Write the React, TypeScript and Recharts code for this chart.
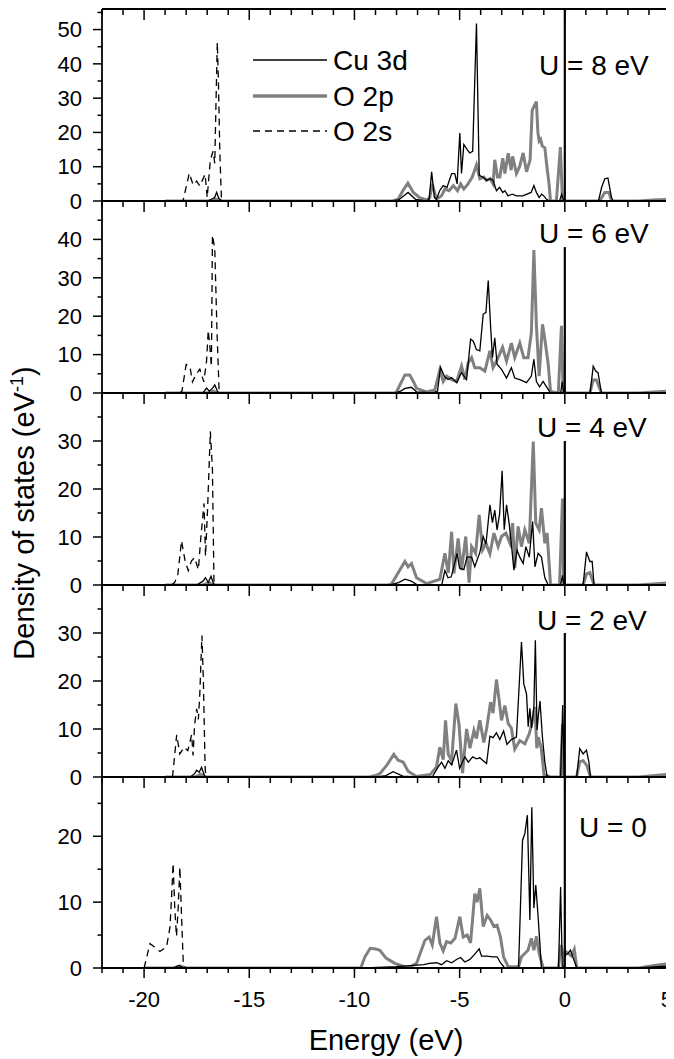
import { LineChart, Line, XAxis, YAxis, ReferenceLine } from "recharts";

const FONT = '"Liberation Sans", Arial, Helvetica, sans-serif';
const W = 674;
const H = 1059;
const GRAY = "#808080";

type Pt = [number, number];

// ── axis ticks ────────────────────────────────────────────────
const xTicks = [-22, -21, -20, -19, -18, -17, -16, -15, -14, -13, -12, -11, -10, -9, -8, -7, -6, -5, -4, -3, -2, -1, 0, 1, 2, 3, 4, 5];
const yTicksU8 = [0, 5, 10, 15, 20, 25, 30, 35, 40, 45, 50, 55];
const yTicksU6 = [0, 5, 10, 15, 20, 25, 30, 35, 40, 45];
const yTicksU4 = [0, 5, 10, 15, 20, 25, 30, 35];
const yTicksU2 = [0, 5, 10, 15, 20, 25, 30, 35];
const yTicksU0 = [0, 5, 10, 15, 20, 25];

// ── U = 8 eV ──────────────────────────────────────────────────
const o2sU8: Pt[] = [[-18.9, 0], [-18.15, 0], [-17.85, 8.1], [-17.67, 4.7], [-17.5, 5.8], [-17.35, 4.4], [-17.1, 7.8], [-17.0, 1], [-16.85, 12], [-16.72, 14.5], [-16.64, 11], [-16.58, 29], [-16.52, 46.3], [-16.47, 35.8], [-16.4, 14.5], [-16.32, 0]];
const cuU8: Pt[] = [[-19, 0], [-17, 0], [-16.8, 0.5], [-16.65, 1], [-16.55, 2.5], [-16.45, 0.8], [-16.3, 0], [-8.2, 0], [-7.9, 0.3], [-7.45, 2.5], [-7.1, 0.5], [-6.6, 0], [-6.45, 0.5], [-6.33, 8.5], [-6.2, 1], [-6.1, 0.5], [-5.95, 3], [-5.78, 4.5], [-5.6, 4], [-5.38, 8], [-5.23, 8], [-5.12, 5], [-4.99, 19.8], [-4.91, 8], [-4.8, 16.5], [-4.64, 15], [-4.52, 14], [-4.38, 14.5], [-4.2, 51.8], [-4.07, 7.5], [-3.9, 7], [-3.72, 6], [-3.55, 6.5], [-3.41, 6], [-3.25, 3], [-3.1, 4], [-2.95, 2.5], [-2.85, 3], [-2.7, 1.5], [-2.5, 2], [-2.3, 1.5], [-2.0, 1.5], [-1.8, 2], [-1.6, 2.5], [-1.47, 4.5], [-1.35, 2.5], [-1.22, 1], [-1.1, 2], [-1.0, 1.5], [-0.87, 0.5], [-0.7, 0], [-0.25, 0], [-0.15, 2], [-0.05, 0], [1.6, 0], [1.75, 4], [1.9, 6.5], [2.05, 6.7], [2.22, 1], [2.3, 0], [5, 0]];
const o2pU8: Pt[] = [[-19, 0], [-16.8, 0], [-16.6, 0.6], [-16.4, 0], [-8.2, 0], [-7.92, 0.5], [-7.7, 3], [-7.46, 5.2], [-7.2, 2.5], [-6.9, 1], [-6.57, 0.3], [-6.42, 1], [-6.3, 5], [-6.1, 0.5], [-5.86, 1.5], [-5.7, 3.5], [-5.5, 3], [-5.3, 4.5], [-5.1, 3], [-4.95, 5], [-4.8, 3.5], [-4.6, 5], [-4.4, 7], [-4.2, 10.5], [-4.04, 6.5], [-3.85, 7], [-3.72, 6], [-3.55, 6.5], [-3.41, 5], [-3.33, 12], [-3.2, 7], [-3.09, 7], [-2.95, 12.5], [-2.85, 8], [-2.69, 13.9], [-2.55, 9], [-2.48, 13], [-2.3, 8], [-2.15, 10], [-1.98, 14], [-1.82, 8.5], [-1.65, 12], [-1.55, 26.5], [-1.43, 28], [-1.35, 29], [-1.28, 20], [-1.22, 17.5], [-1.15, 18], [-1.07, 16], [-0.95, 15.5], [-0.85, 10], [-0.75, 5], [-0.68, 0], [-0.4, 0], [-0.21, 15.7], [-0.11, 0], [1.66, 0], [1.9, 2.5], [2.1, 2.5], [2.22, 0], [3.5, 0], [4.2, 0.3], [5, 0.5]];

// ── U = 6 eV ──────────────────────────────────────────────────
const o2sU6: Pt[] = [[-18.3, 0], [-18.2, 0.5], [-18.0, 7.4], [-17.82, 6.9], [-17.7, 2.9], [-17.5, 5.1], [-17.35, 6.2], [-17.16, 2.9], [-17.03, 8.4], [-16.95, 16.3], [-16.87, 11.9], [-16.8, 6.9], [-16.75, 41.1], [-16.64, 37.6], [-16.53, 15.4], [-16.43, 0]];
const cuU6: Pt[] = [[-19, 0], [-17.2, 0], [-17.03, 1.3], [-16.9, 0.5], [-16.75, 1.2], [-16.64, 2.1], [-16.5, 0.3], [-16.4, 0], [-8.1, 0], [-7.8, 0.5], [-7.6, 1.2], [-7.29, 1.5], [-7.05, 0.3], [-6.3, 0], [-6.05, 0.5], [-5.91, 6.7], [-5.72, 4.3], [-5.55, 3.5], [-5.38, 4], [-5.14, 2.7], [-4.91, 5.3], [-4.67, 3.5], [-4.48, 14], [-4.35, 13.5], [-4.2, 11.3], [-4.04, 11], [-3.88, 20.5], [-3.75, 21], [-3.64, 29.3], [-3.53, 17.5], [-3.44, 9.2], [-3.33, 14.4], [-3.22, 7.5], [-3.0, 6.1], [-2.77, 3.9], [-2.54, 6.6], [-2.38, 3.9], [-2.14, 3.5], [-1.82, 2.7], [-1.59, 4.4], [-1.47, 8.8], [-1.35, 3], [-1.2, 1.6], [-1.03, 3], [-0.8, 1], [-0.68, 0], [-0.2, 0], [-0.12, 3], [-0.05, 0], [1.2, 0], [1.35, 7], [1.47, 5.7], [1.58, 5.3], [1.74, 0], [5, 0]];
const o2pU6: Pt[] = [[-19, 0], [-17, 0], [-16.7, 0.5], [-16.5, 0], [-8.1, 0], [-8.0, 0.3], [-7.6, 4.7], [-7.37, 4.7], [-7.2, 3], [-7.05, 1.2], [-6.57, 0.3], [-6.18, 0.8], [-5.94, 6], [-5.78, 3], [-5.62, 4.4], [-5.38, 3.5], [-5.14, 3], [-4.91, 7], [-4.75, 3.5], [-4.59, 7.9], [-4.43, 9.2], [-4.28, 6.6], [-4.04, 6.6], [-3.8, 5.7], [-3.56, 11], [-3.41, 6.6], [-3.17, 9.2], [-2.96, 11.9], [-2.77, 8.3], [-2.54, 13], [-2.38, 9.2], [-2.14, 13], [-1.95, 9.2], [-1.75, 9.2], [-1.59, 15.7], [-1.47, 37.2], [-1.35, 17.5], [-1.22, 4.4], [-1.06, 17.9], [-0.95, 14], [-0.79, 7.5], [-0.68, 0.4], [-0.31, 0], [-0.16, 17.5], [-0.08, 0], [1.19, 0], [1.35, 3.4], [1.5, 3.4], [1.74, 0], [3.5, 0], [5, 0.5]];

// ── U = 4 eV ──────────────────────────────────────────────────
const o2sU4: Pt[] = [[-18.7, 0], [-18.55, 0.5], [-18.4, 2], [-18.22, 9.2], [-18.05, 5], [-17.9, 3], [-17.75, 5], [-17.6, 5.7], [-17.42, 3.2], [-17.3, 10], [-17.15, 17], [-17.08, 6], [-16.98, 16], [-16.85, 32], [-16.75, 24], [-16.68, 1], [-16.62, 0]];
const cuU4: Pt[] = [[-19, 0], [-17.5, 0], [-17.2, 0.8], [-17.08, 1.5], [-16.95, 0.5], [-16.82, 1.8], [-16.7, 0.3], [-16.6, 0], [-8.3, 0], [-7.9, 0.5], [-7.6, 1.2], [-7.3, 0.8], [-7.0, 0], [-5.85, 0], [-5.7, 3], [-5.55, 1.5], [-5.4, 1.7], [-5.12, 6.6], [-5.0, 3.5], [-4.8, 3.2], [-4.65, 5.8], [-4.43, 5.8], [-4.28, 3.8], [-4.04, 6.8], [-3.88, 10.1], [-3.75, 8.5], [-3.56, 16.7], [-3.44, 13], [-3.33, 15.6], [-3.22, 11.5], [-3.1, 14.8], [-2.98, 23.8], [-2.88, 11.5], [-2.77, 16.7], [-2.65, 13], [-2.54, 8.5], [-2.42, 3.1], [-2.27, 7.3], [-2.14, 5.8], [-1.98, 4.5], [-1.85, 8], [-1.69, 5.8], [-1.53, 13.2], [-1.42, 3.8], [-1.27, 6.6], [-1.11, 5.8], [-0.95, 1.5], [-0.79, 0], [-0.2, 0], [-0.11, 2], [-0.05, 0], [0.87, 0], [1.03, 6.9], [1.19, 4.9], [1.3, 4.9], [1.39, 0], [5, 0]];
const o2pU4: Pt[] = [[-19, 0], [-17.2, 0], [-16.9, 0.5], [-16.7, 0], [-8.4, 0], [-8.24, 0.2], [-7.6, 4.9], [-7.45, 3.8], [-7.29, 4.5], [-7.05, 1.5], [-6.57, 0.3], [-5.94, 1.2], [-5.7, 6.6], [-5.54, 2.5], [-5.38, 11.1], [-5.27, 2.4], [-5.07, 9.7], [-4.91, 3.1], [-4.71, 10.1], [-4.55, 0.5], [-4.43, 8], [-4.24, 6.6], [-4.07, 14.6], [-3.91, 7.3], [-3.75, 8.7], [-3.56, 6.5], [-3.37, 10.8], [-3.17, 8], [-3.01, 10.1], [-2.8, 10.8], [-2.61, 8.7], [-2.48, 12.9], [-2.38, 3.5], [-2.22, 12.2], [-2.06, 8], [-1.9, 11.5], [-1.69, 8.7], [-1.5, 29.9], [-1.38, 12.9], [-1.22, 11.5], [-1.11, 16], [-0.95, 8.7], [-0.84, 10.8], [-0.68, 0], [-0.25, 0], [-0.11, 18], [-0.05, 0], [0.87, 0], [1.03, 2.3], [1.19, 2.6], [1.39, 0], [3.5, 0], [5, 0.5]];

// ── U = 2 eV ──────────────────────────────────────────────────
const o2sU2: Pt[] = [[-18.65, 0], [-18.6, 2.1], [-18.45, 8.8], [-18.3, 4.8], [-18.1, 6.2], [-17.92, 5.5], [-17.74, 8.8], [-17.67, 4.5], [-17.6, 10.8], [-17.5, 14.2], [-17.42, 12], [-17.35, 17.4], [-17.25, 29.5], [-17.18, 20], [-17.1, 2.1], [-17.06, 0]];
const cuU2: Pt[] = [[-19, 0], [-17.8, 0], [-17.6, 0.7], [-17.5, 1.4], [-17.38, 1], [-17.27, 2], [-17.1, 0], [-9, 0], [-8.5, 0.3], [-8.16, 1.1], [-7.7, 0.2], [-7.0, 0], [-6.3, 0], [-6.02, 2.1], [-5.86, 3.1], [-5.7, 1.8], [-5.54, 3.4], [-5.38, 2.5], [-5.15, 5.6], [-5.0, 1.8], [-4.75, 4.2], [-4.59, 3.1], [-4.38, 4.2], [-4.2, 3.8], [-4.04, 4], [-3.88, 3.4], [-3.72, 2.8], [-3.56, 8.5], [-3.41, 8.2], [-3.25, 9.2], [-3.09, 7.8], [-2.91, 9.6], [-2.75, 6.8], [-2.54, 7.8], [-2.3, 8.3], [-2.06, 28.1], [-1.95, 19.4], [-1.82, 17.3], [-1.74, 10.5], [-1.66, 14.3], [-1.58, 10.2], [-1.47, 14.8], [-1.4, 28.5], [-1.32, 9.8], [-1.25, 13.2], [-1.18, 15.8], [-1.07, 8.6], [-0.95, 3.1], [-0.85, 0.3], [-0.7, 0], [-0.2, 0], [-0.1, 15], [-0.03, 0], [0.56, 0], [0.71, 5.9], [0.87, 4.8], [1.03, 5.6], [1.15, 3], [1.22, 0], [5, 0]];
const o2pU2: Pt[] = [[-19, 0], [-17.6, 0], [-17.3, 0.6], [-17.1, 0], [-9.3, 0], [-9.0, 0.3], [-8.79, 0.7], [-8.47, 2.4], [-8.13, 4.7], [-7.92, 3.5], [-7.68, 3.1], [-7.45, 1.2], [-7.05, 0.1], [-6.4, 0.5], [-6.1, 2.1], [-5.94, 6.2], [-5.78, 3.6], [-5.67, 11.8], [-5.54, 4.7], [-5.38, 3.4], [-5.18, 15.3], [-5.03, 11], [-4.86, 0.8], [-4.67, 10], [-4.51, 6], [-4.32, 9.7], [-4.2, 8], [-4.04, 11.8], [-3.85, 7.2], [-3.72, 10], [-3.53, 15.6], [-3.41, 13.3], [-3.25, 20.3], [-3.12, 15.9], [-3.01, 11.8], [-2.85, 14.9], [-2.69, 11.1], [-2.54, 10.2], [-2.38, 5.8], [-2.14, 7.6], [-1.9, 6.9], [-1.69, 9], [-1.53, 11.8], [-1.42, 14.6], [-1.33, 6], [-1.26, 8.3], [-1.12, 6], [-0.99, 0.5], [-0.71, 0], [-0.2, 0], [-0.11, 11.1], [-0.05, 0], [0.56, 0], [0.71, 3.2], [0.87, 3.4], [1.06, 2.3], [1.22, 0], [3.5, 0], [5, 0.6]];

// ── U = 0 ─────────────────────────────────────────────────────
const o2sU0: Pt[] = [[-20, 0], [-19.72, 3.7], [-19.5, 3.2], [-19.25, 2.5], [-18.93, 3.2], [-18.77, 6.2], [-18.7, 10.3], [-18.62, 15.9], [-18.54, 9], [-18.46, 4.8], [-18.38, 9], [-18.3, 15.3], [-18.22, 8], [-18.14, 1], [-18.06, 0]];
const cuU0: Pt[] = [[-20, 0], [-18.6, 0], [-18.35, 0.4], [-18.1, 0], [-9.5, 0], [-8, 0.2], [-6.7, 0.5], [-6.45, 0.7], [-6.1, 0.8], [-5.86, 0.5], [-5.62, 1.1], [-5.38, 0.8], [-5.15, 1.3], [-4.96, 1.6], [-4.75, 0.9], [-4.51, 1.3], [-4.28, 2.1], [-4.07, 2.9], [-3.96, 1.8], [-3.72, 1.8], [-3.4, 1.7], [-3.22, 1.7], [-3.06, 0.8], [-2.85, 0], [-2.2, 0], [-2.01, 19.4], [-1.9, 20.4], [-1.78, 23.2], [-1.66, 7.3], [-1.57, 24.4], [-1.47, 9.1], [-1.38, 12.6], [-1.27, 7.8], [-1.11, 0], [-0.3, 0], [-0.2, 12.3], [-0.12, 0], [-0.05, 0], [0.0, 2], [0.15, 2.2], [0.27, 2.7], [0.4, 1.5], [0.57, 0], [3.5, 0], [5, 0.3]];
const o2pU0: Pt[] = [[-20, 0], [-18.6, 0], [-18.3, 0.3], [-18, 0], [-9.7, 0], [-9.5, 1.7], [-9.25, 3], [-9.0, 2.9], [-8.79, 2.7], [-8.5, 1.5], [-8.08, 0.7], [-7.45, 0], [-7.05, 0.7], [-6.65, 4.2], [-6.45, 4.7], [-6.3, 3.5], [-6.1, 7.8], [-5.94, 3.8], [-5.78, 2.6], [-5.62, 4], [-5.42, 3.8], [-5.22, 4.5], [-4.99, 7.8], [-4.83, 4.7], [-4.64, 5], [-4.48, 3.8], [-4.28, 11.3], [-4.17, 10], [-4.04, 12.1], [-3.88, 6.3], [-3.69, 8], [-3.53, 7.3], [-3.37, 6.3], [-3.22, 6.5], [-3.06, 4.7], [-2.91, 1.7], [-2.69, 0.2], [-2.2, 0.2], [-2.06, 1.7], [-1.75, 2.7], [-1.59, 4.5], [-1.47, 2.7], [-1.35, 4.8], [-1.22, 2.2], [-1.03, 0], [-0.3, 0], [-0.19, 3.5], [-0.05, 1.5], [0.08, 2.4], [0.32, 1.8], [0.45, 2.8], [0.57, 0], [3.5, 0], [4.5, 0.5], [5, 0.7]];

// height of the Fermi-level marker in each panel (DOS units)
const fermiTop = [56, 38, 30, 30, 29];
const yMax = [56, 50, 40, 40, 29];
const uLabels = ["U = 8 eV", "U = 6 eV", "U = 4 eV", "U = 2 eV", "U = 0"];

const panels = [
  { top: 9, bottom: 201, ticks: yTicksU8, cu: cuU8, o2p: o2pU8, o2s: o2sU8, lx: 539, ly: 75 },
  { top: 201, bottom: 393, ticks: yTicksU6, cu: cuU6, o2p: o2pU6, o2s: o2sU6, lx: 539, ly: 243 },
  { top: 393, bottom: 585, ticks: yTicksU4, cu: cuU4, o2p: o2pU4, o2s: o2sU4, lx: 537, ly: 437 },
  { top: 585, bottom: 777, ticks: yTicksU2, cu: cuU2, o2p: o2pU2, o2s: o2sU2, lx: 537, ly: 630 },
  { top: 777, bottom: 968, ticks: yTicksU0, cu: cuU0, o2p: o2pU0, o2s: o2sU0, lx: 579, ly: 837 },
];

const toPts = (arr: Pt[]) => arr.map(([e, v]) => ({ e, v }));

const frame = { stroke: "#000", strokeWidth: 1.8 };

// ── custom tick marks ─────────────────────────────────────────
const TopTick = (props: any) => {
  const { x, y, payload } = props;
  const len = payload.value % 5 === 0 ? 11 : 6;
  return <line x1={x} y1={y} x2={x} y2={y + len} stroke="#000" strokeWidth={1.5} />;
};

const BottomTick = (props: any) => {
  const { x, y, payload } = props;
  const major = payload.value % 5 === 0;
  // the last label sits on the page edge; keep it inside
  const atEdge = x > W - 10;
  return (
    <g>
      <line x1={x} y1={y} x2={x} y2={y + (major ? 10 : 5)} stroke="#000" strokeWidth={1.5} />
      {major && (
        <text
          x={atEdge ? W - 1 : x} y={y + 39} textAnchor={atEdge ? "end" : "middle"}
          fontSize={22} fontFamily={FONT} fill="#000"
        >
          {payload.value}
        </text>
      )}
    </g>
  );
};

const LeftTick = (props: any) => {
  const { x, y, payload } = props;
  const major = payload.value % 10 === 0;
  return (
    <g>
      <line x1={x - (major ? 9 : 4.5)} y1={y} x2={x} y2={y} stroke="#000" strokeWidth={1.5} />
      {major && (
        <text x={x - 20} y={y} dy="0.35em" textAnchor="end" fontSize={22} fontFamily={FONT} fill="#000">
          {payload.value}
        </text>
      )}
    </g>
  );
};

const RightTick = (props: any) => {
  const { x, y, payload } = props;
  const len = payload.value % 10 === 0 ? 5 : 3;
  return <line x1={x} y1={y} x2={x + len} y2={y} stroke="#000" strokeWidth={1.5} />;
};

function Panel({ i }: { i: number }) {
  const p = panels[i];
  const last = i === panels.length - 1;
  return (
    <div style={{ position: "absolute", left: 0, top: 0 }}>
      <LineChart width={W} height={H} margin={{ top: p.top - 1, bottom: H - p.bottom - 1, left: 0, right: 0 }}>
        <XAxis
          xAxisId="b" dataKey="e" type="number" domain={[-22, 5]} allowDataOverflow
          ticks={xTicks} interval={0} height={1} tickSize={0} tickMargin={0}
          axisLine={frame} tickLine={false} tick={last ? <BottomTick /> : false}
        />
        <XAxis
          xAxisId="t" dataKey="e" orientation="top" type="number" domain={[-22, 5]} allowDataOverflow
          ticks={xTicks} interval={0} height={1} tickSize={0} tickMargin={0}
          axisLine={frame} tickLine={false} tick={<TopTick />}
        />
        <YAxis
          yAxisId="l" type="number" domain={[0, yMax[i]]} allowDataOverflow
          ticks={p.ticks} interval={0} width={102} tickSize={0} tickMargin={0}
          axisLine={frame} tickLine={false} tick={<LeftTick />}
        />
        <YAxis
          yAxisId="r" orientation="right" type="number" domain={[0, yMax[i]]} allowDataOverflow
          ticks={p.ticks} interval={0} width={4} tickSize={0} tickMargin={0}
          axisLine={frame} tickLine={false} tick={<RightTick />}
        />
        {/* every axis carries a series; all share the same fixed domains */}
        <Line
          xAxisId="b" yAxisId="r" data={toPts(p.o2p)} dataKey="v" type="linear"
          stroke={GRAY} strokeWidth={3} dot={false} isAnimationActive={false}
        />
        <Line
          xAxisId="b" yAxisId="l" data={toPts(p.cu)} dataKey="v" type="linear"
          stroke="#000" strokeWidth={1.3} dot={false} isAnimationActive={false}
        />
        <Line
          xAxisId="t" yAxisId="l" data={toPts(p.o2s)} dataKey="v" type="linear"
          stroke="#000" strokeWidth={1.3} strokeDasharray="7 5" dot={false} isAnimationActive={false}
        />
        <ReferenceLine
          xAxisId="b" yAxisId="l"
          segment={[{ x: 0, y: 0 }, { x: 0, y: fermiTop[i] }]}
          stroke="#000" strokeWidth={2.2}
        />
      </LineChart>
    </div>
  );
}

export default function App() {
  return (
    <div style={{ position: "relative", width: W, height: H, margin: "-8px 0 0 -8px", overflow: "hidden", background: "#fff" }}>
      {panels.map((_, i) => (
        <Panel key={i} i={i} />
      ))}
      <svg width={W} height={H} style={{ position: "absolute", left: 0, top: 0, pointerEvents: "none" }}>
        {/* legend */}
        <line x1={253} y1={60} x2={327} y2={60} stroke="#000" strokeWidth={1.5} />
        <line x1={253} y1={96} x2={327} y2={96} stroke={GRAY} strokeWidth={3.5} />
        <line x1={253} y1={131} x2={327} y2={131} stroke="#000" strokeWidth={1.5} strokeDasharray="7 5" />
        <text x={333} y={70} fontSize={28} fontFamily={FONT}>Cu 3d</text>
        <text x={333} y={106} fontSize={28} fontFamily={FONT}>O 2p</text>
        <text x={333} y={141} fontSize={28} fontFamily={FONT}>O 2s</text>
        {/* panel labels */}
        {panels.map((p, i) => (
          <text key={i} x={p.lx} y={p.ly} fontSize={28} fontFamily={FONT}>{uLabels[i]}</text>
        ))}
        {/* axis titles */}
        <text x={386} y={1050} textAnchor="middle" fontSize={29} fontFamily={FONT}>Energy (eV)</text>
        <text x={34} y={513} textAnchor="middle" fontSize={29} fontFamily={FONT} transform="rotate(-90 34 513)">
          Density of states (eV
          <tspan fontSize={18} dy={-11}>-1</tspan>
          <tspan dy={11}>)</tspan>
        </text>
      </svg>
    </div>
  );
}
